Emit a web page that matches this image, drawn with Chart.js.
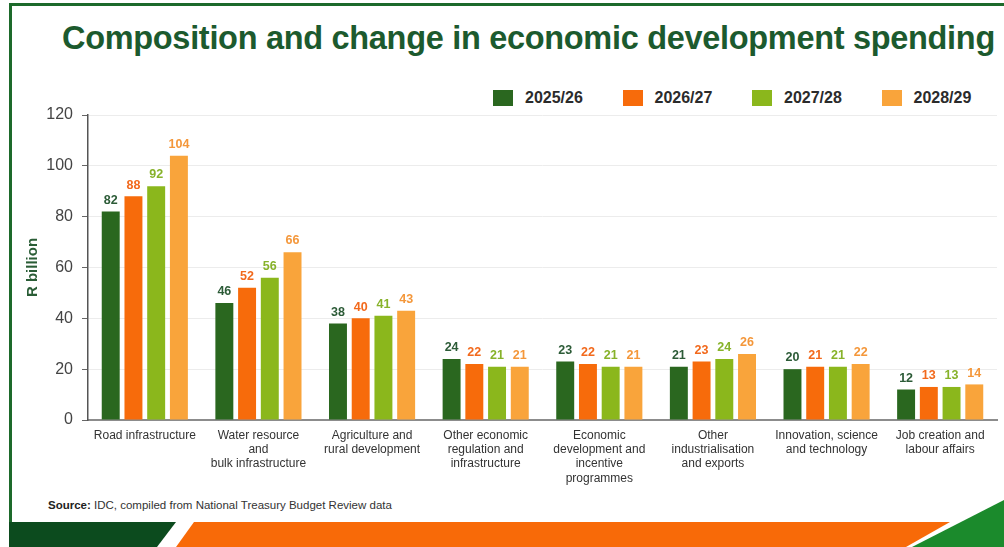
<!DOCTYPE html>
<html>
<head>
<meta charset="utf-8">
<script src="https://cdn.jsdelivr.net/npm/chart.js@4.4.1/dist/chart.umd.min.js"></script>
<style>
  html, body { margin: 0; padding: 0; background: #fff; }
  #stage { position: relative; width: 1004px; height: 547px; overflow: hidden; background: #fff;
           font-family: "Liberation Sans", Arial, sans-serif; }
  .deco { position: absolute; }
  #frameTop { left: 9px; top: 3px; right: 0; height: 3px; background: #1d6a2b; }
  #frameLeft { left: 9px; top: 3px; width: 3px; height: 520px; background: #1d6a2b; }
  #bandGreen { left: 9px; top: 522px; width: 170px; height: 25px; background: #0c4b1e;
               clip-path: polygon(0 0, 167px 0, 148px 25px, 0 25px); }
  #bandOrange { left: 176px; top: 522px; width: 775px; height: 25px; background: #f86a08;
                clip-path: polygon(18px 0, 774px 0, 730px 25px, 0 25px); }
  #bandRight { left: 912px; top: 500px; width: 92px; height: 47px; background: #1b8a2c;
               clip-path: polygon(0 47px, 92px 0, 92px 47px); }
  #title { position: absolute; left: 62px; top: 20px; white-space: nowrap; transform-origin: 0 0;
           font-family: "Liberation Sans", Arial, sans-serif; line-height: 36px;
           font-weight: bold; font-size: 33px; color: #1c5a2e; letter-spacing: -0.3px; }
  #legend { position: absolute; left: 493px; top: 89px; display: flex; }
  .item { display: flex; align-items: center; width: 129.5px; }
  .swatch { width: 20px; height: 16px; margin-right: 12px; }
  .item span { font-weight: bold; font-size: 16px; color: #2b2b2b; }
  #source { position: absolute; left: 48px; top: 499px; font-size: 11.5px; color: #333; white-space: nowrap; }
  #source b { color: #222; }
  #chart { position: absolute; left: 0; top: 0; }
</style>
</head>
<body>
<div id="stage">
  <div class="deco" id="frameTop"></div>
  <div class="deco" id="frameLeft"></div>
  <div class="deco" id="bandGreen"></div>
  <div class="deco" id="bandOrange"></div>
  <div class="deco" id="bandRight"></div>
  <div id="title">Composition and change in economic development spending</div>
  <div id="legend"></div>
  <div id="source"><b>Source:</b> IDC, compiled from National Treasury Budget Review data</div>
  <canvas id="chart" width="1004" height="547"></canvas>
</div>
<script>
// Spending categories (multi-line labels as drawn under the axis)
const categories = [
  "Road infrastructure",
  ["Water resource", "and", "bulk infrastructure"],
  ["Agriculture and", "rural development"],
  ["Other economic", "regulation and", "infrastructure"],
  ["Economic", "development and", "incentive", "programmes"],
  ["Other", "industrialisation", "and exports"],
  ["Innovation, science", "and technology"],
  ["Job creation and", "labour affairs"]
];

// Series: spending in R billion per fiscal year
const seriesNames = ["2025/26", "2026/27", "2027/28", "2028/29"];
const fy2025 = [82, 46, 38, 24, 23, 21, 20, 12];
const fy2026 = [88, 52, 40, 22, 22, 23, 21, 13];
const fy2027 = [92, 56, 41, 21, 21, 24, 21, 13];
const fy2028 = [104, 66, 43, 21, 21, 26, 22, 14];

// Value axis tick labels
const yTicks = [0, 20, 40, 60, 80, 100, 120];

const barColors = ["#2a671f", "#f76b0b", "#8bb71c", "#f9a43b"];
const labelColors = ["#2c5b37", "#f2691c", "#87b22a", "#f4973a"];

// Legend, built from the series names and colours
const legendEl = document.getElementById("legend");
seriesNames.forEach((name, i) => {
  const item = document.createElement("div");
  item.className = "item";
  const sw = document.createElement("div");
  sw.className = "swatch";
  sw.style.background = barColors[i];
  const tx = document.createElement("span");
  tx.textContent = name;
  item.appendChild(sw);
  item.appendChild(tx);
  legendEl.appendChild(item);
});

// Fit the title to its full line width
const titleEl = document.getElementById("title");
const titleWidth = 933;
titleEl.style.transform = "scaleX(" + (titleWidth / titleEl.scrollWidth) + ")";

// Draws the value above each bar in the series' label colour
const valueLabels = {
  id: "valueLabels",
  afterDatasetsDraw(chart) {
    const ctx = chart.ctx;
    ctx.save();
    ctx.font = "bold 12.5px 'Liberation Sans', Arial, sans-serif";
    ctx.textAlign = "center";
    ctx.textBaseline = "bottom";
    chart.data.datasets.forEach((ds, di) => {
      const meta = chart.getDatasetMeta(di);
      ctx.fillStyle = labelColors[di];
      meta.data.forEach((bar, i) => {
        ctx.fillText(String(ds.data[i]), bar.x, bar.y - 5);
      });
    });
    ctx.restore();
  }
};

const seriesData = [fy2025, fy2026, fy2027, fy2028];

new Chart(document.getElementById("chart"), {
  type: "bar",
  data: {
    labels: categories,
    datasets: seriesNames.map((name, i) => ({
      label: name,
      data: seriesData[i],
      backgroundColor: barColors[i],
      borderWidth: 0,
      categoryPercentage: 0.8,
      barPercentage: 0.79
    }))
  },
  options: {
    responsive: false,
    animation: false,
    devicePixelRatio: 1,
    layout: { padding: { left: 20, right: 7, top: 115, bottom: 0 } },
    plugins: {
      legend: { display: false },
      title: { display: false },
      tooltip: { enabled: false }
    },
    scales: {
      x: {
        grid: { display: false, drawTicks: false },
        border: { display: true, color: "#8c8c8c", width: 2 },
        ticks: {
          color: "#333",
          padding: 8,
          maxRotation: 0,
          autoSkip: false,
          font: { family: "'Liberation Sans', Arial, sans-serif", size: 12, lineHeight: 1.2 }
        },
        afterFit(scale) { scale.height = 127; }
      },
      y: {
        min: 0,
        max: 120,
        afterBuildTicks(scale) { scale.ticks = yTicks.map(v => ({ value: v })); },
        grid: { color: "#ececec", lineWidth: 1, tickColor: "#666", tickLength: 6 },
        border: { display: true, color: "#555", width: 1.5 },
        ticks: {
          color: "#444",
          padding: 9,
          font: { family: "'Liberation Sans', Arial, sans-serif", size: 16 }
        },
        title: {
          display: true,
          text: "R billion",
          color: "#2a5d36",
          padding: 4,
          font: { family: "'Liberation Sans', Arial, sans-serif", size: 15, weight: "bold" }
        },
        afterFit(scale) { scale.width = 68; }
      }
    }
  },
  plugins: [valueLabels]
});
</script>
</body>
</html>
